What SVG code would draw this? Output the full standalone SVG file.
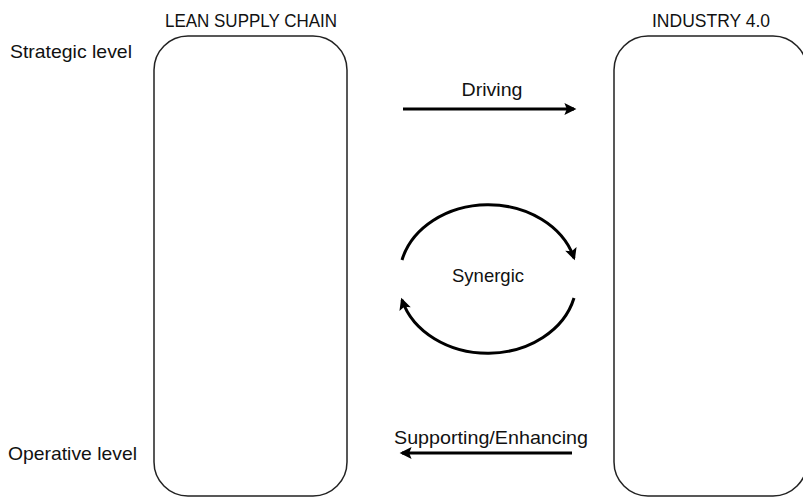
<svg xmlns="http://www.w3.org/2000/svg" width="803" height="497" viewBox="0 0 803 497">
<style>
text{font-family:"Liberation Sans",Arial,sans-serif;font-size:19px;fill:#111}
.box{fill:#fff;stroke:#222;stroke-width:1.5}
.arr{fill:none;stroke:#000;stroke-width:3}
</style>
<defs>
<marker id="ah" viewBox="0 0 10 10" refX="8" refY="5" markerWidth="14" markerHeight="12" markerUnits="userSpaceOnUse" orient="auto">
<path d="M0,0 L10,5 L0,10 L2,5 Z" fill="#000"/>
</marker>
</defs>
<rect width="803" height="497" fill="#fff"/>
<g id="lean">
<rect class="box" x="154" y="36" width="193" height="460" rx="34" ry="34"/>
<text x="251" y="27" text-anchor="middle" textLength="172" lengthAdjust="spacingAndGlyphs">LEAN SUPPLY CHAIN</text>
</g>
<g id="industry">
<rect class="box" x="614" y="36" width="193" height="460" rx="34" ry="34"/>
<text x="711" y="27" text-anchor="middle" textLength="118" lengthAdjust="spacingAndGlyphs">INDUSTRY 4.0</text>
</g>
<g id="levels">
<text x="10" y="58" textLength="122" lengthAdjust="spacingAndGlyphs">Strategic level</text>
<text x="8" y="460" textLength="129" lengthAdjust="spacingAndGlyphs">Operative level</text>
</g>
<g id="connectors">
<path class="arr" d="M403,109 L574,109" marker-end="url(#ah)"/>
<text x="492" y="96" text-anchor="middle" textLength="61" lengthAdjust="spacingAndGlyphs">Driving</text>
<path class="arr" d="M402,260 A89,73 0 0 1 574,258" marker-end="url(#ah)"/>
<path class="arr" d="M574,298 A89,73 0 0 1 402,300" marker-end="url(#ah)"/>
<text x="488" y="282" text-anchor="middle" textLength="72" lengthAdjust="spacingAndGlyphs">Synergic</text>
<path class="arr" d="M572,453 L402,453" marker-end="url(#ah)"/>
<text x="491" y="444" text-anchor="middle" textLength="194" lengthAdjust="spacingAndGlyphs">Supporting/Enhancing</text>
</g>
</svg>
